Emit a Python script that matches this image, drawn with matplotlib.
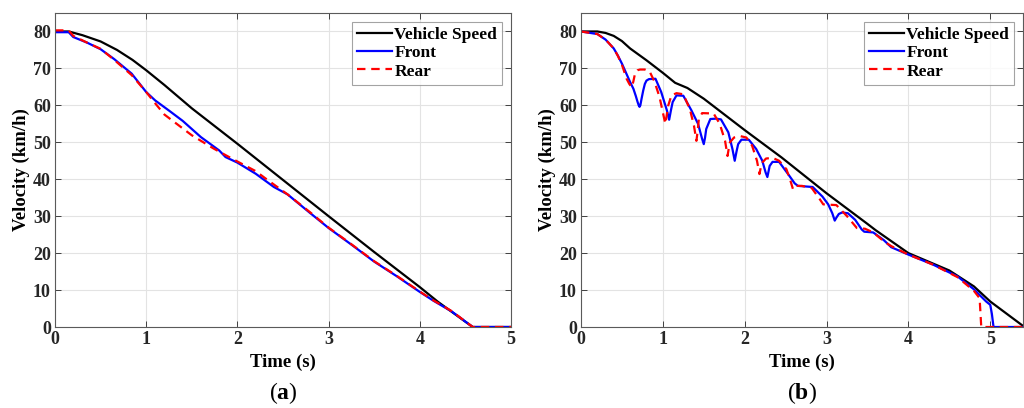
import matplotlib.pyplot as plt

# %% Data
# (a) panel
t_a_veh = [0, 0.15, 0.3, 0.5, 0.68, 0.85, 1.0, 1.2, 1.5, 2.0, 2.5, 3.0, 3.5, 4.0, 4.2, 4.58, 5.0]
v_a_veh = [80, 80, 79, 77.3, 75, 72.3, 69.5, 65.5, 59.2, 49.6, 39.8, 30, 20.3, 10.8, 6.8, 0, 0]

t_a_front = [0, 0.15, 0.2, 0.35, 0.5, 0.65, 0.84, 1.0, 1.1, 1.26, 1.4, 1.6, 1.8, 1.87, 2.0,
             2.2, 2.4, 2.55, 2.8, 3.0, 3.25, 3.5, 3.75, 4.0, 4.15, 4.35, 4.58, 5.0]
v_a_front = [79.8, 79.8, 78.5, 77, 75.2, 72.5, 68.6, 63.6, 61.3, 58.4, 55.8, 51.4, 47.8, 46, 44.5,
             41.5, 37.9, 35.9, 30.8, 26.8, 22.3, 17.7, 13.7, 9.5, 7.1, 4.2, 0, 0]

t_a_rear = [0, 0.15, 0.2, 0.35, 0.5, 0.65, 0.84, 1.0, 1.1, 1.2, 1.5, 1.74, 1.88, 2.0, 2.2,
            2.32, 2.55, 2.8, 3.0, 3.25, 3.5, 3.75, 4.0, 4.15, 4.35, 4.58, 5.0]
v_a_rear = [80.3, 80.3, 78.8, 77, 75.3, 72.3, 68.2, 63.6, 60.5, 57.5, 51.9, 48.3, 46.4, 44.8, 42.2,
            40.0, 35.9, 31.0, 26.9, 22.4, 17.8, 13.8, 9.6, 7.2, 4.3, 0, 0]

# (b) panel
t_b_veh = [0, 0.2, 0.3, 0.4, 0.5, 0.6, 0.8, 1.0, 1.15, 1.3, 1.5, 2.0, 2.45, 3.0, 3.5, 3.6, 4.0,
           4.5, 4.8, 5.0, 5.4]
v_b_veh = [80, 80, 79.6, 78.8, 77.4, 75.4, 72.2, 68.8, 66.1, 64.7, 61.8, 53.3, 45.9, 36.2, 27.9,
           26.2, 20.0, 15.3, 11.0, 6.9, 0.3]

t_b_front = [0, 0.2, 0.3, 0.4, 0.45, 0.5, 0.55, 0.6, 0.64, 0.67, 0.69, 0.705, 0.715, 0.725, 0.74,
             0.76, 0.78, 0.80, 0.83, 0.91,
             0.98, 1.05, 1.077, 1.10, 1.12, 1.167, 1.25,
             1.35, 1.43, 1.48, 1.50, 1.515, 1.53, 1.58, 1.65, 1.71,
             1.80, 1.85, 1.878, 1.90, 1.92, 1.96, 2.05,
             2.14, 2.215, 2.256, 2.277, 2.29, 2.305, 2.34, 2.42,
             2.53, 2.61, 2.65, 2.71, 2.83,
             2.95, 3.02, 3.07, 3.10, 3.12, 3.15, 3.19, 3.26, 3.35, 3.43, 3.46, 3.57, 3.70, 3.79,
             4.0, 4.3, 4.6, 4.8, 4.95, 5.0, 5.02, 5.04, 5.4]
v_b_front = [80, 79.3, 77.8, 75.4, 73.5, 71.3, 68.8, 66.3, 64.5, 62.5, 61, 60, 59.6, 60, 61.8,
             64, 65.8, 66.7, 67.1, 67.2,
             63.6, 58.6, 56.1, 58.8, 60.9, 62.7, 62.6,
             58.6, 55.0, 50.9, 49.5, 51.2, 53.6, 56.3, 56.4, 56.2,
             52.7, 48.2, 45.0, 47.5, 49.5, 50.7, 50.7,
             48.2, 45.0, 41.8, 40.6, 42.0, 43.6, 44.7, 44.7,
             41.4, 38.9, 38.2, 38.1, 37.9,
             35.3, 33.2, 30.8, 28.8, 29.6, 30.6, 31.0, 30.8, 29.0, 26.4, 25.8, 25.6, 23.5, 21.6,
             19.6, 16.9, 13.7, 10.2, 6.9, 6.0, 3.5, 0, 0]

t_b_rear = [0, 0.2, 0.3, 0.4, 0.45, 0.5, 0.557, 0.59, 0.62, 0.64, 0.66, 0.69, 0.72, 0.78, 0.84,
            0.90, 0.96, 1.0, 1.03, 1.045, 1.065, 1.105, 1.167, 1.25,
            1.33, 1.38, 1.41, 1.425, 1.44, 1.48, 1.62,
            1.695, 1.76, 1.79, 1.805, 1.82, 1.87, 1.94, 2.02,
            2.09, 2.15, 2.18, 2.195, 2.215, 2.26, 2.34, 2.42,
            2.51, 2.56, 2.59, 2.62, 2.70, 2.82,
            2.92, 2.96, 3.12, 3.25, 3.37, 3.47, 3.57, 3.70, 3.79,
            4.0, 4.3, 4.6, 4.8, 4.87, 4.89, 5.4]
v_b_rear = [80, 79.3, 77.8, 75.4, 73.4, 71.0, 67.2, 65.8, 64.9, 66.5, 68.6, 69.5, 69.7, 69.7, 69.1,
            66.3, 62.2, 58.1, 55.0, 57.0, 59.9, 62.7, 63.3, 63.0,
            59.0, 54.5, 50.4, 53.0, 56.3, 57.9, 57.8,
            55.0, 50.4, 46.3, 48.3, 50.0, 51.3, 51.7, 51.3,
            49.1, 45.0, 41.4, 43.0, 44.5, 45.6, 45.8, 45.0,
            42.7, 39.5, 37.3, 38.2, 38.2, 37.6,
            34.5, 33.2, 33.0, 30, 26.8, 26.6, 25.6, 23.2, 21.9,
            19.6, 16.9, 13.5, 9.8, 7.8, 0, 0]

x_ticks = [0, 1, 2, 3, 4, 5]
y_ticks = [0, 10, 20, 30, 40, 50, 60, 70, 80]
series_labels = ["Vehicle Speed", "Front", "Rear"]
panel_labels = ["a", "b"]

# %% Style
plt.rcParams['font.family'] = ['Liberation Serif', 'DejaVu Serif']
plt.rcParams['font.weight'] = 'bold'
plt.rcParams['mathtext.fontset'] = 'custom'
plt.rcParams['mathtext.rm'] = 'Liberation Serif'
plt.rcParams['mathtext.bf'] = 'Liberation Serif:bold'

fig = plt.figure(figsize=(10.24, 4.08), dpi=100)
ax_a = fig.add_axes([55 / 1024, 81 / 408, 456 / 1024, 314 / 408])
ax_b = fig.add_axes([581 / 1024, 81 / 408, 442 / 1024, 314 / 408])

panels = [
    (ax_a, t_a_veh, v_a_veh, t_a_front, v_a_front, t_a_rear, v_a_rear, 5.0),
    (ax_b, t_b_veh, v_b_veh, t_b_front, v_b_front, t_b_rear, v_b_rear, 5.4),
]

for (ax, tv, vv, tf, vf, tr, vr, xmax), plab in zip(panels, panel_labels):
    ax.plot(tv, vv, color='black', lw=1.6, label=series_labels[0])
    ax.plot(tf, vf, color='#0000ff', lw=1.6, label=series_labels[1])
    ax.plot(tr, vr, color='#ff0000', lw=1.6, ls=(0, (3.8, 2.6)), label=series_labels[2])
    ax.set_xlim(0, xmax)
    ax.set_ylim(0, 85)
    ax.set_xticks(x_ticks)
    ax.set_yticks(y_ticks)
    ax.grid(True, color='#e3e3e3', lw=0.8)
    ax.set_axisbelow(True)
    ax.tick_params(direction='in', length=4, width=0.6, colors='#262626', labelsize=13,
                   top=True, right=True, labeltop=False, labelright=False, pad=3)
    for sp in ax.spines.values():
        sp.set_color('#5a5a5a')
        sp.set_linewidth(0.8)
    ax.set_xlabel('Time (s)', fontsize=13.5, fontweight='bold', labelpad=4)
    ax.set_ylabel('Velocity (km/h)', fontsize=13.5, fontweight='bold', labelpad=2)
    leg = ax.legend(loc='upper right', fontsize=12.5, frameon=True, fancybox=False,
                    edgecolor='#8c8c8c', handlelength=2.0, handletextpad=0.12,
                    labelspacing=0.12, borderpad=0.3, borderaxespad=0.5)
    leg.get_frame().set_linewidth(0.8)
    # panel caption below the axes
    ax.text(0.5, -0.21, '(' + r'$\mathbf{' + plab + '}$' + ')', transform=ax.transAxes,
            ha='center', va='center', fontsize=17, fontweight='normal')

fig.savefig('out.png', dpi=100)
